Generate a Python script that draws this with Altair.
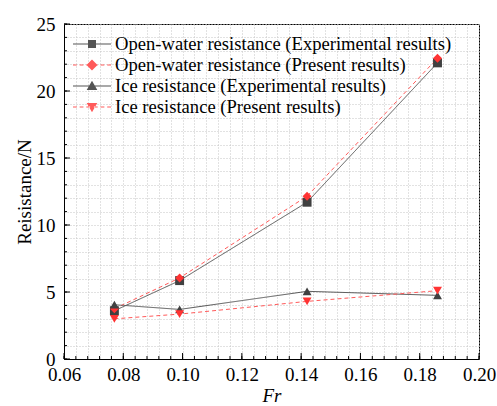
import altair as alt
import pandas as pd

fr = [0.077, 0.099, 0.142, 0.186]
open_exp = [3.6, 5.85, 11.7, 22.1]
open_pre = [3.75, 6.05, 12.15, 22.45]
ice_exp = [4.05, 3.7, 5.05, 4.75]
ice_pre = [3.0, 3.35, 4.3, 5.1]

series_names = [
    "Open-water resistance (Experimental results)",
    "Open-water resistance (Present results)",
    "Ice resistance (Experimental results)",
    "Ice resistance (Present results)",
]
series_values = [open_exp, open_pre, ice_exp, ice_pre]

x_minor = [round(0.06 + 0.004 * i, 3) for i in range(36)]
x_major = [0.06, 0.08, 0.10, 0.12, 0.14, 0.16, 0.18, 0.20]
y_minor = list(range(0, 26))
y_major = [0, 5, 10, 15, 20, 25]

rows = []
for name, vals in zip(series_names, series_values):
    for x, y in zip(fr, vals):
        rows.append({"Fr": x, "R": y, "series": name})
df = pd.DataFrame(rows)

line_colors = ["#555555", "#ff5a5a", "#555555", "#ff5a5a"]
marker_colors = ["#404040", "#ff3333", "#404040", "#ff3333"]
dashes = [[1, 0], [4, 3], [1, 0], [4, 3]]
shapes = ["square", "diamond", "triangle-up", "triangle-down"]

# legend symbols: line + marker drawn as one path
solid = "M-1,-0.028H1V0.028H-1Z"
dashed = "".join(
    f"M{a},-0.028H{b}V0.028H{a}Z"
    for a, b in [(-1, -0.8), (-0.65, -0.45), (-0.3, -0.1), (0.1, 0.3), (0.45, 0.65), (0.8, 1)]
)
m_square = "M-0.21,-0.21H0.21V0.21H-0.21Z"
m_diamond = "M0,-0.29L0.29,0L0,0.29L-0.29,0Z"
m_tup = "M0,-0.27L0.28,0.21L-0.28,0.21Z"
m_tdown = "M0,0.27L0.28,-0.21L-0.28,-0.21Z"
legend_paths = [solid + m_square, dashed + m_diamond, solid + m_tup, dashed + m_tdown]

FONT = "'Liberation Serif', 'Times New Roman', Times, serif"
grid_color = "#c4c4c4"
W, H = 415, 335


def xs():
    return alt.Scale(domain=[0.06, 0.20], nice=False, zero=False)


def ys():
    return alt.Scale(domain=[0, 25], nice=False, zero=True)


x_main = alt.Axis(
    values=x_minor, grid=True, gridDash=[1, 2], gridColor=grid_color, gridWidth=1,
    ticks=False, domain=True, domainColor="#000000",
    labelExpr="abs(datum.value/0.02 - round(datum.value/0.02)) < 0.001 ? format(datum.value, '.2f') : ''",
    labelFont=FONT, labelFontSize=19, labelColor="#000000",
    labelPadding=6, labelFlush=False, labelOverlap=False,
    title="Fr", titleFont=FONT, titleFontSize=19,
    titleFontStyle="italic", titleFontWeight="normal", titleColor="#000000",
    titlePadding=2,
)
y_main = alt.Axis(
    values=y_minor, grid=True, gridDash=[1, 2], gridColor=grid_color, gridWidth=1,
    ticks=False, domain=True, domainColor="#000000",
    labelExpr="abs(datum.value/5 - round(datum.value/5)) < 0.001 ? format(datum.value, 'd') : ''",
    labelFont=FONT, labelFontSize=19, labelColor="#000000",
    labelPadding=9, labelFlush=False, labelOverlap=False,
    title="Reisistance/N", titleFont=FONT, titleFontSize=19,
    titleFontWeight="normal", titleColor="#000000", titlePadding=2,
)

base = alt.Chart(df)

lines = base.mark_line(strokeWidth=1).encode(
    x=alt.X("Fr:Q", scale=xs(), axis=x_main),
    y=alt.Y("R:Q", scale=ys(), axis=y_main),
    color=alt.Color("series:N", sort=series_names,
                    scale=alt.Scale(domain=series_names, range=line_colors), legend=None),
    strokeDash=alt.StrokeDash("series:N", sort=series_names,
                              scale=alt.Scale(domain=series_names, range=dashes), legend=None),
    detail="series:N",
)

points = base.mark_point(filled=True, size=80, opacity=1).encode(
    x=alt.X("Fr:Q", scale=xs(), axis=None),
    y=alt.Y("R:Q", scale=ys(), axis=None),
    fill=alt.Fill("series:N", sort=series_names,
                  scale=alt.Scale(domain=series_names, range=marker_colors), legend=None),
    shape=alt.Shape("series:N", sort=series_names,
                    scale=alt.Scale(domain=series_names, range=shapes), legend=None),
)

legend_layer = base.transform_filter("false").mark_point(filled=True, opacity=1).encode(
    x=alt.X("Fr:Q", scale=xs(), axis=None),
    y=alt.Y("R:Q", scale=ys(), axis=None),
    color=alt.Color("series:N", sort=series_names,
                    scale=alt.Scale(domain=series_names, range=line_colors),
                    legend=alt.Legend(
                        title=None, orient="none", legendX=9, legendY=9.5,
                        symbolSize=1444, symbolStrokeWidth=0, symbolOpacity=1,
                        clipHeight=21, rowPadding=0, padding=0,
                        labelFont=FONT, labelFontSize=18.6,
                        labelColor="#000000", labelOffset=4, labelLimit=500,
                    )),
    shape=alt.Shape("series:N", sort=series_names,
                    scale=alt.Scale(domain=series_names, range=legend_paths)),
)


# inward tick marks along the bottom and left frame edges
def xtick_layer(vals, length):
    return alt.Chart(pd.DataFrame({"v": vals})).mark_rule(
        color="#000000", strokeWidth=1
    ).encode(
        x=alt.X("v:Q", scale=xs(), axis=None),
        y=alt.value(H), y2=alt.value(H - length),
    )


def ytick_layer(vals, length):
    return alt.Chart(pd.DataFrame({"v": vals})).mark_rule(
        color="#000000", strokeWidth=1
    ).encode(
        y=alt.Y("v:Q", scale=ys(), axis=None),
        x=alt.value(0), x2=alt.value(length),
    )


ticks = [
    xtick_layer(x_minor, 3), xtick_layer(x_major, 6),
    ytick_layer(y_minor, 3), ytick_layer(y_major, 6),
]

chart = alt.layer(lines, *ticks, points, legend_layer).resolve_scale(
    x="independent", y="independent",
    shape="independent", color="independent",
).resolve_axis(
    x="independent", y="independent"
).properties(
    width=W, height=H,
    autosize=alt.AutoSizeParams(type="none"),
    padding={"left": 64, "top": 24, "right": 18, "bottom": 47},
    background="#ffffff",
).configure_view(
    stroke="#000000", strokeWidth=1
).configure_axis(
    labelFont=FONT, titleFont=FONT
).configure_legend(
    labelFont=FONT
)

chart.save("out.html", embed_options={"renderer": "svg", "actions": False})
